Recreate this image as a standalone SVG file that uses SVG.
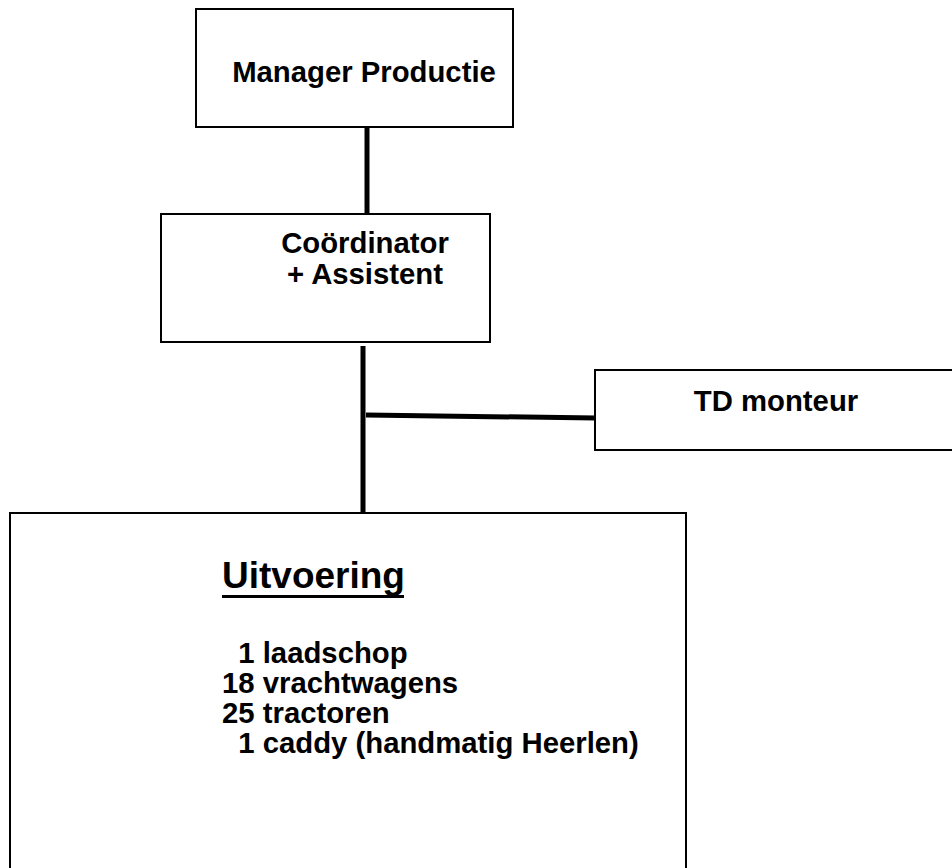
<svg xmlns="http://www.w3.org/2000/svg" width="952" height="868" viewBox="0 0 952 868">
<style>
.box{fill:#fff;stroke:#000;stroke-width:2}
.t{font-family:"Liberation Sans",Arial,sans-serif;font-weight:bold;font-size:29.3px;fill:#000}
.c{stroke:#000;stroke-width:5;fill:none}
</style>
<rect width="952" height="868" fill="#fff"/>
<g id="connectors">
<line class="c" x1="367" y1="127" x2="367" y2="214"/>
<line class="c" x1="363" y1="346" x2="363" y2="515"/>
<line class="c" x1="366" y1="415" x2="596" y2="418"/>
</g>
<g id="manager">
<rect class="box" x="196" y="9" width="317" height="118"/>
<text class="t" x="364" y="82" text-anchor="middle">Manager Productie</text>
</g>
<g id="coordinator">
<rect class="box" x="161" y="214" width="329" height="128"/>
<text class="t" x="365" y="253" text-anchor="middle">Coördinator</text>
<text class="t" x="365" y="284" text-anchor="middle">+ Assistent</text>
</g>
<g id="td">
<rect class="box" x="595" y="370" width="370" height="80"/>
<text class="t" x="776" y="411" text-anchor="middle">TD monteur</text>
</g>
<g id="uitvoering">
<rect class="box" x="10" y="513" width="676" height="370"/>
<text class="t" x="222" y="588" style="font-size:37px">Uitvoering</text>
<rect x="222" y="595" width="182" height="3" fill="#000"/>
<text class="t" x="222" y="663" xml:space="preserve">  1 laadschop</text>
<text class="t" x="222" y="693">18 vrachtwagens</text>
<text class="t" x="222" y="723">25 tractoren</text>
<text class="t" x="222" y="753" xml:space="preserve">  1 caddy (handmatig Heerlen)</text>
</g>
</svg>
